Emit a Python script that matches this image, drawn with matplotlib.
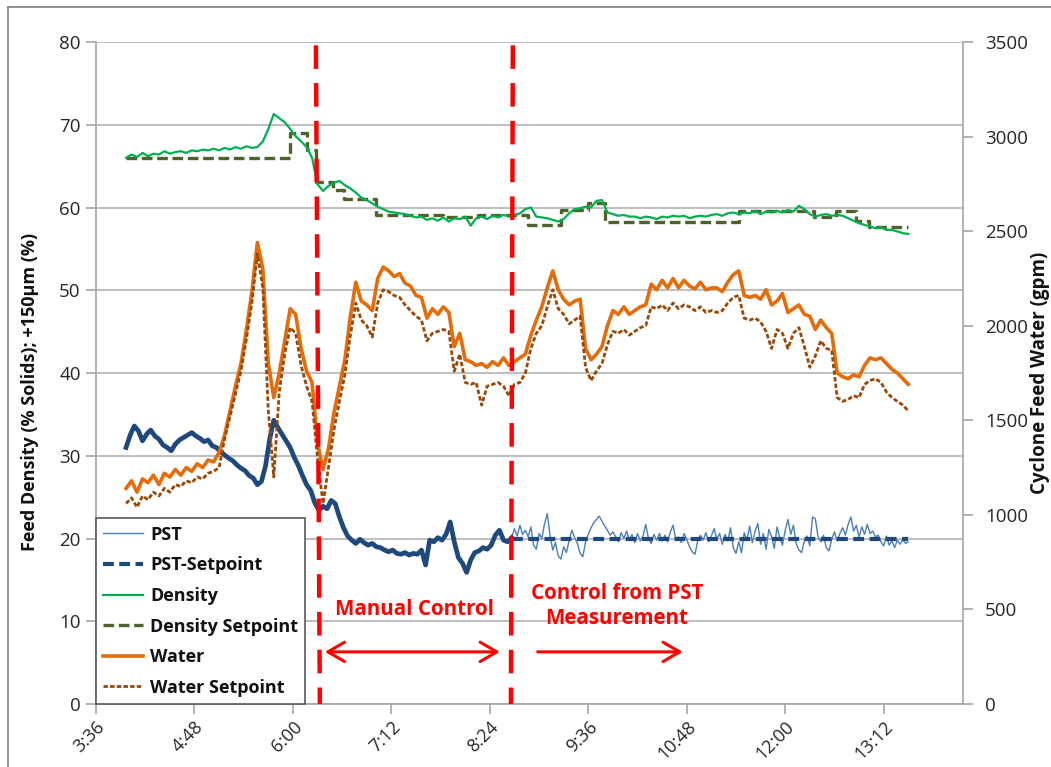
import numpy as np
import matplotlib
matplotlib.use("Agg")
import matplotlib.pyplot as plt
import matplotlib.transforms as mtransforms
from matplotlib.lines import Line2D

plt.rcParams['font.family'] = ['Open Sans', 'DejaVu Sans']

# ---------------- data (time in minutes after midnight) ----------------
WATER_START, WATER_STEP = 238, 4
water = [
    1140, 1180, 1120, 1190, 1170, 1210, 1160, 1220, 1200, 1240, 1210, 1250,
    1230, 1270, 1250, 1290, 1280, 1330, 1420, 1550, 1680, 1800, 1980, 2180,
    2440, 2300, 1800, 1620, 1750, 1920, 2090, 2060, 1880, 1760, 1700, 1380,
    1240, 1350, 1540, 1680, 1820, 2050, 2230, 2130, 2110, 2080, 2250, 2310,
    2290, 2260, 2275, 2225, 2210, 2160, 2150, 2040, 2090, 2060, 2100, 2070,
    1890, 1960, 1820, 1810, 1790, 1800, 1780, 1810, 1790, 1830, 1790, 1810,
    1830, 1850, 1950, 2030, 2100, 2200, 2290, 2190, 2140, 2110, 2130, 2140,
    1880, 1820, 1850, 1890, 2000, 2080, 2060, 2100, 2060, 2080, 2100, 2110,
    2220, 2190, 2240, 2200, 2250, 2200, 2240, 2210, 2195, 2230, 2190, 2200,
    2200, 2180, 2230, 2270, 2290, 2160, 2150, 2160, 2140, 2190, 2110, 2130,
    2170, 2070, 2090, 2110, 2060, 2050, 1980, 2030, 1990, 1960, 1750, 1730,
    1720, 1740, 1730, 1790, 1830, 1820, 1830, 1800, 1770, 1750, 1720, 1690,
]
water_sp = [
    1060, 1090, 1040, 1100, 1080, 1120, 1100, 1140, 1120, 1160, 1150, 1180,
    1170, 1200, 1190, 1220, 1230, 1250, 1400, 1520, 1640, 1760, 1930, 2120,
    2380, 2200, 1550, 1200, 1650, 1850, 1990, 1960, 1790, 1680, 1600, 1300,
    1060, 1250, 1450, 1600, 1740, 1950, 2120, 2030, 2000, 1940, 2120, 2190,
    2180, 2160, 2150, 2110, 2080, 2050, 2030, 1920, 1960, 1970, 1980, 1970,
    1760, 1850, 1700, 1690, 1700, 1580, 1680, 1690, 1700, 1680, 1630, 1690,
    1700, 1750, 1880, 1960, 2000, 2100, 2190, 2090, 2060, 2010, 2030, 2050,
    1780, 1710, 1760, 1800, 1900, 1970, 1960, 1980, 1950, 1970, 1990, 2000,
    2100, 2090, 2110, 2080, 2120, 2090, 2110, 2100, 2080, 2100, 2070, 2080,
    2070, 2080, 2120, 2150, 2160, 2040, 2030, 2040, 2020, 1970, 1880, 1980,
    1960, 1880, 1960, 1990, 1890, 1780, 1840, 1920, 1880, 1870, 1620, 1600,
    1610, 1630, 1620, 1690, 1710, 1720, 1700, 1650, 1620, 1600, 1580, 1550,
]
density = [
    66.0, 66.4, 66.1, 66.6, 66.2, 66.5, 66.4, 66.8, 66.5, 66.7, 66.8, 66.6,
    66.9, 66.8, 67.0, 66.9, 67.1, 66.9, 67.2, 67.0, 67.3, 67.1, 67.4, 67.2,
    67.3, 68.0, 69.5, 71.3, 70.8, 70.3, 69.5, 68.6, 68.0, 67.3, 66.0, 62.8,
    62.0, 62.6, 63.0, 63.2, 62.7, 62.3, 61.8, 61.2, 60.9, 60.5, 60.1, 59.8,
    59.5, 59.4, 59.3, 59.2, 59.0, 58.8, 58.9, 58.5, 58.7, 58.4, 58.8, 58.3,
    58.7, 58.6, 58.9, 57.8, 58.7, 58.9, 58.6, 59.0, 58.8, 59.1, 58.9, 59.1,
    59.3, 59.8, 60.0, 58.9, 58.8, 58.7, 58.5, 58.3, 58.6, 59.3, 59.8, 59.9,
    60.1, 60.0, 60.8, 60.9, 59.4, 59.2, 59.0, 59.1, 58.9, 58.9, 58.7, 58.9,
    58.8, 58.6, 58.9, 58.8, 59.0, 58.9, 59.0, 58.7, 58.9, 59.0, 58.9, 59.1,
    59.2, 59.0, 59.3, 59.4, 59.2, 59.4, 59.3, 59.6, 59.2, 59.5, 59.4, 59.6,
    59.4, 59.7, 59.5, 60.2, 59.8, 59.2, 58.9, 59.1, 59.2, 59.0, 59.1, 59.0,
    58.7, 58.4, 58.1, 57.9, 57.7, 57.5, 57.6, 57.3, 57.3, 57.1, 56.9, 56.8,
]
density_sp_t = [238, 358, 370, 377, 389, 397, 421, 470, 495, 532, 556, 576,
                588, 686, 741, 757, 772, 781, 810]
density_sp = [66.0, 69.0, 66.9, 63.1, 62.1, 61.0, 59.1, 58.9, 59.1, 57.9, 59.7,
              60.5, 58.2, 59.6, 58.9, 59.6, 58.4, 57.7, 57.7]

# PST setpoint while in manual mode (tracks measurement), 3-min samples
PSTSP_START, PSTSP_STEP = 238, 3
pst_sp_manual = [
    31.0, 32.5, 33.6, 33.0, 31.8, 32.6, 33.1, 32.4, 32.0, 31.3, 31.0, 30.6,
    31.4, 31.9, 32.2, 32.5, 32.8, 32.4, 32.1, 31.7, 31.9, 31.2, 31.0, 30.5,
    30.1, 29.7, 29.4, 28.9, 28.5, 28.2, 27.6, 27.3, 26.5, 26.9, 28.8, 32.0,
    34.3, 33.4, 32.6, 31.8, 31.0, 29.8, 28.8, 27.6, 26.5, 25.8, 24.3, 23.4,
    23.9, 23.6, 24.6, 24.2, 22.6, 21.3, 20.3, 19.8, 19.4, 19.9, 19.5, 19.2,
    19.4, 19.0, 18.9, 18.6, 18.4, 18.6, 18.2, 18.1, 18.3, 18.0, 18.2, 18.1,
    18.6, 16.8, 19.8, 19.6, 20.1, 19.8, 20.5, 22.0, 19.6, 17.7, 17.0, 15.9,
    17.4, 18.3, 18.5, 18.9, 18.7, 19.2, 20.4, 21.0, 19.8, 19.6, 20.1,
]
pst_sp_auto_t = [520, 810]
pst_sp_auto = [20.0, 20.0]

# PST measurement under automatic control, 2-min samples
PST_START, PST_STEP = 520, 2
pst = [
    20.1, 21.2, 20.3, 21.6, 20.5, 21.0, 20.2, 21.4, 19.2, 18.7, 20.6, 20.0,
    21.8, 23.0, 20.4, 18.6, 19.5, 17.9, 17.5, 19.0, 18.3, 19.8, 21.0, 20.1,
    19.4, 18.2, 17.8, 19.6, 20.5, 21.3, 21.9, 22.3, 22.7, 22.1, 21.5, 21.0,
    20.4, 20.8, 20.2, 19.6, 20.7, 20.0, 20.9, 19.8, 20.5, 19.5, 20.6, 19.7,
    20.3, 21.7, 20.0, 19.4, 20.5, 19.8, 20.6, 19.7, 20.4, 19.6, 20.8, 21.6,
    19.9, 20.2, 19.5, 20.6, 19.9, 19.0, 18.4, 18.1, 19.7, 20.4, 19.8, 20.7,
    19.6, 20.3, 21.2, 19.9, 20.6, 19.3, 20.5, 19.7, 21.3, 18.9, 18.2, 19.6,
    18.3, 20.7, 19.8, 21.5, 19.5, 20.9, 21.8, 19.3, 20.6, 18.7, 21.1, 20.2,
    18.8, 21.4, 20.1, 19.2, 21.0, 22.3, 20.5, 21.6, 19.4, 18.6, 18.3, 19.7,
    20.3, 19.1, 22.6, 22.4, 20.2, 19.6, 20.4, 18.9, 18.5, 19.9, 20.8, 19.7,
    20.6, 21.3, 20.4, 21.7, 22.6, 20.9, 21.6, 20.2, 21.4, 20.5, 21.7, 20.6,
    20.9, 20.2, 20.4, 19.6, 19.1, 20.3, 19.2, 19.7, 18.9, 19.8, 19.3, 19.9,
    19.4, 19.6,
]

# control-mode change times (top, bottom of the drawn marker line)
switch_manual = [376.8, 379.7]
switch_auto = [520.8, 519.4]

x_ticks = [216, 288, 360, 432, 504, 576, 648, 720, 792]
x_labels = ["3:36", "4:48", "6:00", "7:12", "8:24", "9:36", "10:48", "12:00", "13:12"]

# ---------------- figure ----------------
W, H = 1051, 767
fig = plt.figure(figsize=(W / 100, H / 100), dpi=100)
ax1 = fig.add_axes([96 / W, 63 / H, 867 / W, 662 / H])
ax2 = ax1.twinx()

C_PST = '#4A7EBB'
C_PSTSP = '#1F497D'
C_DEN = '#00B050'
C_DENSP = '#4F6228'
C_WAT = '#E46C0A'
C_WATSP = '#984807'
GRID = '#C0C0C0'
SPINE = '#A6A6A6'
TXT = '#262626'

t_pst = PST_START + PST_STEP * np.arange(len(pst))
t_pstsp = PSTSP_START + PSTSP_STEP * np.arange(len(pst_sp_manual))
t_w = WATER_START + WATER_STEP * np.arange(len(water))
t_ws = WATER_START + WATER_STEP * np.arange(len(water_sp))
t_d = WATER_START + WATER_STEP * np.arange(len(density))

h_pst, = ax1.plot(t_pst, pst, color=C_PST, lw=1.0, zorder=3)
ax1.plot(t_pstsp, pst_sp_manual, color=C_PSTSP, lw=3.4, zorder=4,
         solid_joinstyle='round')
h_pstsp, = ax1.plot(pst_sp_auto_t, pst_sp_auto, color=C_PSTSP, lw=3.0,
                    dashes=(2.6, 1.3), zorder=4)
h_densp, = ax1.plot(density_sp_t, density_sp, color=C_DENSP, lw=2.4,
                    drawstyle='steps-post', dashes=(3.2, 1.4), zorder=3)
h_den, = ax1.plot(t_d, density, color=C_DEN, lw=1.6, zorder=4)

h_wat, = ax2.plot(t_w, water, color=C_WAT, lw=2.6, zorder=3)
h_watsp, = ax2.plot(t_ws, water_sp, color=C_WATSP, lw=2.0, dashes=(1.6, 0.8),
                    zorder=4)

# axes limits / ticks
ax1.set_xlim(216, 850)
ax1.set_ylim(0, 80)
ax2.set_ylim(0, 3500)
ax1.set_yticks(np.arange(0, 81, 10))
ax2.set_yticks(np.arange(0, 3501, 500))
ax1.set_xticks(x_ticks)
ax1.set_xticklabels(x_labels, rotation=45, ha='right', rotation_mode='anchor')

ax1.set_axisbelow(True)
ax1.yaxis.grid(True, color=GRID, lw=1.5)
ax1.xaxis.grid(False)

for ax in (ax1, ax2):
    for s in ax.spines.values():
        s.set_color(SPINE)
        s.set_linewidth(1.2)
    ax.spines['top'].set_visible(False)
ax1.spines['right'].set_visible(False)
ax2.spines['left'].set_visible(False)
ax2.spines['bottom'].set_visible(False)

ax1.tick_params(axis='both', direction='out', length=7, width=1.2, color=SPINE,
                labelsize=13.5, pad=4, labelcolor=TXT)
ax1.tick_params(axis='x', pad=3, labelsize=13)
ax2.tick_params(axis='y', direction='out', length=7, width=1.2, color=SPINE,
                labelsize=13.5, pad=9, labelcolor=TXT)

ax1.set_ylabel('Feed Density (% Solids); +150\u00b5m (%)', fontsize=13,
               fontweight='bold', color='#111111')
ax1.yaxis.set_label_coords(-0.066, 0.471)
ax2.set_ylabel('Cyclone Feed Water (gpm)', fontsize=13.5, fontweight='bold',
               labelpad=1, color='#111111')

# control switch markers
trans = mtransforms.blended_transform_factory(ax2.transData, ax2.transAxes)
for xs in (switch_manual, switch_auto):
    ax2.plot(xs, [0.995, 0.0], transform=trans, color='#FF0000', lw=3.2,
             dashes=(5.3, 3.2), zorder=10, clip_on=False, solid_capstyle='butt')

# annotations
ax2.text(449, 11.4, 'Manual Control', transform=ax1.transData, color='#FF0000',
         fontsize=14.8, fontweight='bold', ha='center', va='center', zorder=11)
ax2.text(597, 11.8, 'Control from PST\nMeasurement', transform=ax1.transData,
         color='#FF0000', fontsize=14.8, fontweight='bold', ha='center',
         va='center', linespacing=1.25, zorder=11)
ax2.annotate('', xy=(511.3, 6.3), xytext=(383.4, 6.3), xycoords=ax1.transData,
             textcoords=ax1.transData,
             arrowprops=dict(arrowstyle='<->,head_length=0.6,head_width=0.35',
                             color='#FF0000', lw=2.2, shrinkA=0, shrinkB=0,
                             mutation_scale=20), zorder=11)
ax2.annotate('', xy=(645, 6.3), xytext=(539, 6.3), xycoords=ax1.transData,
             textcoords=ax1.transData,
             arrowprops=dict(arrowstyle='->,head_length=0.6,head_width=0.35',
                             color='#FF0000', lw=2.2, shrinkA=0, shrinkB=0,
                             mutation_scale=20), zorder=11)

# legend
leg = ax2.legend([h_pst, h_pstsp, h_den, h_densp, h_wat, h_watsp],
                 ['PST', 'PST-Setpoint', 'Density', 'Density Setpoint', 'Water',
                  'Water Setpoint'],
                 loc='lower left', bbox_to_anchor=(0, 0), borderaxespad=0,
                 frameon=True, fancybox=False, edgecolor='#595959', framealpha=1,
                 prop=dict(weight='bold', size=13), handlelength=2.2,
                 handletextpad=0.4, labelspacing=0.7, borderpad=0.4)
leg.get_frame().set_linewidth(1.2)
for txt in leg.get_texts():
    txt.set_color('#111111')
leg.set_zorder(12)

# chart-area border (top and left visible)
fig.add_artist(Line2D([8 / W, 1], [1 - 7 / H, 1 - 7 / H], transform=fig.transFigure,
                      color='#808080', lw=1.2))
fig.add_artist(Line2D([8 / W, 8 / W], [0, 1 - 7 / H], transform=fig.transFigure,
                      color='#808080', lw=1.2))

fig.savefig('out.png', dpi=100)
